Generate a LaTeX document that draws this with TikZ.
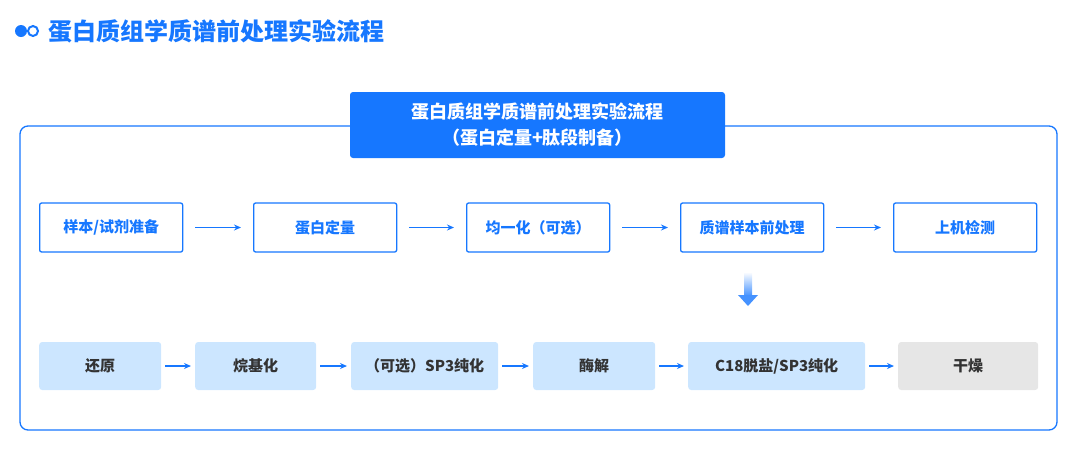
\documentclass[tikz,border=0pt]{standalone}
\usepackage{fontspec}
\setmainfont{Noto Sans CJK SC}
\usetikzlibrary{arrows.meta}
\definecolor{mblue}{HTML}{1677FF}
\definecolor{lblue}{HTML}{CCE6FF}
\definecolor{lgray}{HTML}{E6E6E6}
\definecolor{dtext}{HTML}{333333}
\begin{document}
\begin{tikzpicture}[x=1pt,y=-1pt,
 top/.style={draw=mblue,line width=1.3pt,fill=white,rounded corners=2pt,minimum height=49pt,text=mblue,font=\fontsize{15}{18}\selectfont\bfseries,anchor=west,inner sep=0pt},
 bot/.style={fill=lblue,rounded corners=3pt,minimum height=48pt,text=dtext,font=\fontsize{15}{18}\selectfont\bfseries,anchor=west,inner sep=0pt},
 arr/.style={mblue,line width=1.3pt,-{Stealth[length=7pt,width=6pt]}}]
\useasboundingbox (0,0) rectangle (1080,448);
\fill[mblue] (21,31) circle (6pt);
\draw[mblue,line width=2pt] (33,31) circle (5pt);
\node[anchor=west,text=mblue,font=\fontsize{24}{28}\selectfont\bfseries,inner sep=0pt] (title) at (48,31) {蛋白质组学质谱前处理实验流程};
\draw[mblue,line width=1.3pt,rounded corners=8pt] (20,126) rectangle (1057,430);
\node[fill=mblue,rounded corners=3pt,minimum width=375pt,minimum height=66pt,text=white,align=center,font=\fontsize{18}{26}\selectfont\bfseries] (hdr) at (537.5,125) {蛋白质组学质谱前处理实验流程\\（蛋白定量+肽段制备）};
\node[top,minimum width=143pt] (a1) at (39,227.5) {样本/试剂准备};
\node[top,minimum width=143pt] (a2) at (253,227.5) {蛋白定量};
\node[top,minimum width=143pt] (a3) at (466,227.5) {均一化（可选）};
\node[top,minimum width=143pt] (a4) at (680,227.5) {质谱样本前处理};
\node[top,minimum width=143pt] (a5) at (893,227.5) {上机检测};
\foreach \i/\j in {a1/a2,a2/a3,a3/a4,a4/a5} \draw[arr] ([xshift=12pt]\i.east) -- ([xshift=-12pt]\j.west);
\node[bot,minimum width=122pt] (b1) at (39,366) {还原};
\node[bot,minimum width=121pt] (b2) at (195,366) {烷基化};
\node[bot,minimum width=147pt] (b3) at (351,366) {（可选）SP3纯化};
\node[bot,minimum width=122pt] (b4) at (533,366) {酶解};
\node[bot,minimum width=177pt] (b5) at (688,366) {C18脱盐/SP3纯化};
\node[bot,fill=lgray,minimum width=140pt] (b6) at (898,366) {干燥};
\foreach \i/\j in {b1/b2,b2/b3,b3/b4,b4/b5,b5/b6} \draw[arr] ([xshift=4pt]\i.east) -- ([xshift=-4pt]\j.west);
\coordinate (dt) at (748,272);
\shade[top color=white,bottom color=mblue!80] (744,272) rectangle (752,296);
\fill[mblue!80] (738,295) -- (758,295) -- (748,306) -- cycle;
\end{tikzpicture}
\end{document}
